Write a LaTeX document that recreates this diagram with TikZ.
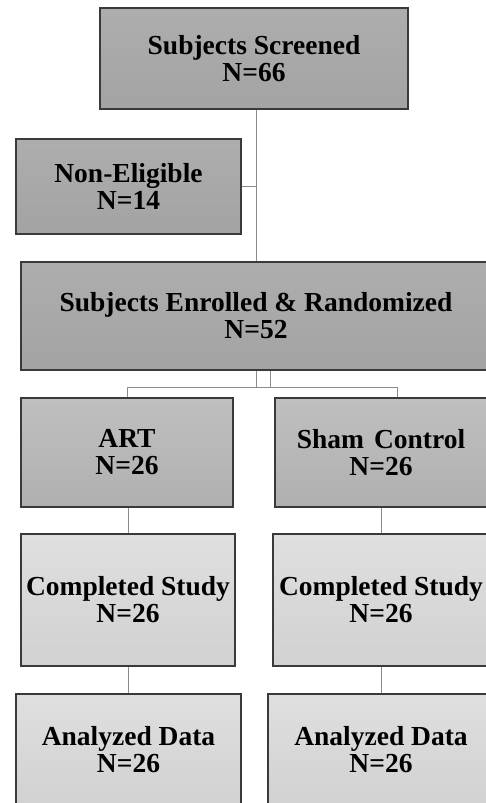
\documentclass[tikz,border=0pt]{standalone}
\usepackage{fontspec}
\setmainfont{Liberation Serif}
\usetikzlibrary{calc}
\definecolor{edge}{HTML}{3A3A3A}
\definecolor{lnk}{HTML}{8C8C8C}
\tikzset{
  box/.style={draw=edge, line width=1.1pt, align=center, inner sep=0pt,
    font=\fontsize{27.5}{27}\selectfont\bfseries},
  lvA/.style={box, top color=gray!64, bottom color=gray!72},
  lvB/.style={box, top color=gray!50, bottom color=gray!62},
  lvC/.style={box, top color=gray!25, bottom color=gray!36},
  link/.style={draw=lnk, line width=0.9pt}
}
\begin{document}
\begin{tikzpicture}[x=1pt,y=-1pt]
\useasboundingbox (0,0) rectangle (486,803);
\clip (0,0) rectangle (486,803);
\fill[white] (0,0) rectangle (486,803);
\node[lvA, minimum width=308pt, minimum height=101pt] (screened) at (254,58.5) {Subjects Screened\\N=66};
\node[lvA, minimum width=225pt, minimum height=95pt] (nonel) at (128.5,186.5) {Non-Eligible\\N=14};
\node[lvA, minimum width=470pt, minimum height=108pt] (enrolled) at (256,316) {Subjects Enrolled \& Randomized\\N=52};
\node[lvB, minimum width=212pt, minimum height=109pt] (art) at (127,452.5) {ART\\N=26};
\node[lvB, minimum width=212pt, minimum height=109pt] (sham) at (381,452.5) {Sham\hspace{10pt}Control\\N=26};
\node[lvC, minimum width=214pt, minimum height=132pt] (compL) at (128,600) {Completed Study\\N=26};
\node[lvC, minimum width=216pt, minimum height=132pt] (compR) at (381,600) {Completed Study\\N=26};
\node[lvC, minimum width=225pt, minimum height=112pt] (anaL) at (128.5,750) {Analyzed Data\\N=26};
\node[lvC, minimum width=226pt, minimum height=112pt] (anaR) at (381,750) {Analyzed Data\\N=26};
\coordinate (split) at ($(enrolled.south)+(0,17)$);
\coordinate (split2) at ($(enrolled.south)+(14,17)$);
\coordinate (shamin) at ($(sham.north)+(16,0)$);
\draw[link] (enrolled.north |- screened.south) -- (enrolled.north);
\draw[link] (nonel.east) -- (nonel.east -| enrolled.north);
\draw[link] (enrolled.south) -- (split) -| (art.north);
\draw[link] ($(enrolled.south)+(14,0)$) -- (split2) -| (shamin);
\draw[link] (split) -- (split2);
\draw[link] (compL.north |- art.south) -- (compL.north);
\draw[link] (compL.south) -- (compL.south |- anaL.north);
\draw[link] (compR.north |- sham.south) -- (compR.north);
\draw[link] (compR.south) -- (compR.south |- anaR.north);
\end{tikzpicture}
\end{document}
